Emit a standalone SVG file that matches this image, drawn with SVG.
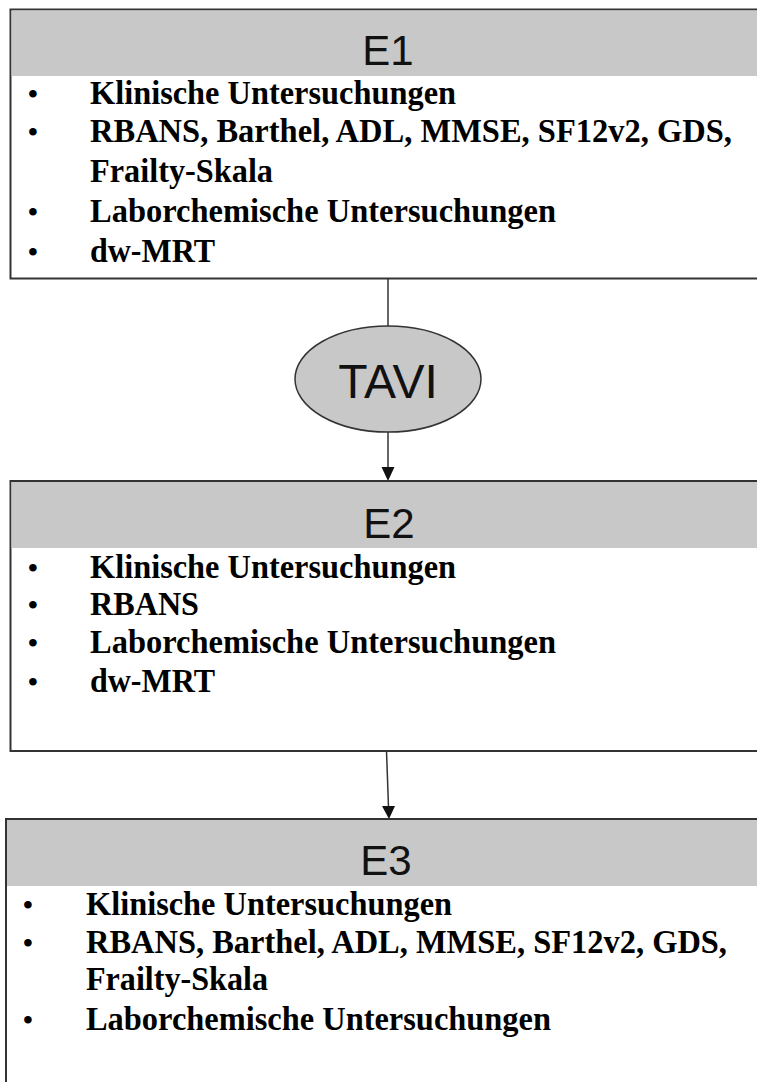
<svg xmlns="http://www.w3.org/2000/svg" width="757" height="1082" viewBox="0 0 757 1082">
<defs>
<style>
.box{fill:#ffffff;stroke:#333333;stroke-width:2}
.hdr{fill:#c8c8c8;stroke:none}
.title{font-family:"Liberation Sans",Arial,sans-serif;font-size:42px;fill:#111;text-anchor:middle}
.item{font-family:"Liberation Serif","Times New Roman",serif;font-size:33px;font-weight:bold;fill:#000}
.bul{font-family:"Liberation Serif","Times New Roman",serif;font-size:28px;font-weight:bold;fill:#000;text-anchor:middle}
.conn{stroke:#333333;stroke-width:1.5;fill:none}
</style>
</defs>
<rect width="757" height="1082" fill="#ffffff"/>
<g id="connectors">
<line class="conn" x1="388" y1="279" x2="388" y2="326"/>
<path class="conn" d="M388,432 L388,467"/>
<path d="M381.5,467 L394.5,467 L388,481 Z" fill="#111"/>
<path class="conn" d="M386.5,751 L388.5,807"/>
<path d="M382,806 L395,806 L389,819 Z" fill="#111"/>
</g>
<g id="E1">
<rect class="box" x="10.5" y="9.5" width="770" height="269"/>
<rect class="hdr" x="11.5" y="10.5" width="768" height="65.5"/>
<text class="title" x="388" y="65">E1</text>
<text class="bul" x="33" y="103">•</text>
<text class="item" x="90" y="104" textLength="366" lengthAdjust="spacingAndGlyphs">Klinische Untersuchungen</text>
<text class="bul" x="33" y="141">•</text>
<text class="item" x="90" y="142" textLength="642" lengthAdjust="spacingAndGlyphs">RBANS, Barthel, ADL, MMSE, SF12v2, GDS,</text>
<text class="item" x="90" y="182" textLength="183" lengthAdjust="spacingAndGlyphs">Frailty-Skala</text>
<text class="bul" x="33" y="221">•</text>
<text class="item" x="90" y="222" textLength="466" lengthAdjust="spacingAndGlyphs">Laborchemische Untersuchungen</text>
<text class="bul" x="33" y="261">•</text>
<text class="item" x="90" y="262" textLength="125" lengthAdjust="spacingAndGlyphs">dw-MRT</text>
</g>
<g id="TAVI">
<ellipse cx="388" cy="379" rx="93" ry="53" fill="#c8c8c8" stroke="#333333" stroke-width="1.5"/>
<text x="388" y="398" font-family="Liberation Sans,Arial,sans-serif" font-size="48" fill="#111" text-anchor="middle">TAVI</text>
</g>
<g id="E2">
<rect class="box" x="10.5" y="481" width="770" height="270"/>
<rect class="hdr" x="11.5" y="482" width="768" height="66"/>
<text class="title" x="389" y="538">E2</text>
<text class="bul" x="33" y="577">•</text>
<text class="item" x="90" y="578" textLength="366" lengthAdjust="spacingAndGlyphs">Klinische Untersuchungen</text>
<text class="bul" x="33" y="614">•</text>
<text class="item" x="90" y="615" textLength="109" lengthAdjust="spacingAndGlyphs">RBANS</text>
<text class="bul" x="33" y="652">•</text>
<text class="item" x="90" y="653" textLength="466" lengthAdjust="spacingAndGlyphs">Laborchemische Untersuchungen</text>
<text class="bul" x="33" y="691">•</text>
<text class="item" x="90" y="692" textLength="125" lengthAdjust="spacingAndGlyphs">dw-MRT</text>
</g>
<g id="E3">
<rect class="box" x="6" y="819" width="775" height="300"/>
<rect class="hdr" x="7" y="820" width="773" height="66"/>
<text class="title" x="386" y="875">E3</text>
<text class="bul" x="28" y="914">•</text>
<text class="item" x="86" y="915" textLength="366" lengthAdjust="spacingAndGlyphs">Klinische Untersuchungen</text>
<text class="bul" x="28" y="952">•</text>
<text class="item" x="86" y="953" textLength="641" lengthAdjust="spacingAndGlyphs">RBANS, Barthel, ADL, MMSE, SF12v2, GDS,</text>
<text class="item" x="86" y="990" textLength="182" lengthAdjust="spacingAndGlyphs">Frailty-Skala</text>
<text class="bul" x="28" y="1029">•</text>
<text class="item" x="86" y="1030" textLength="465" lengthAdjust="spacingAndGlyphs">Laborchemische Untersuchungen</text>
</g>
</svg>
